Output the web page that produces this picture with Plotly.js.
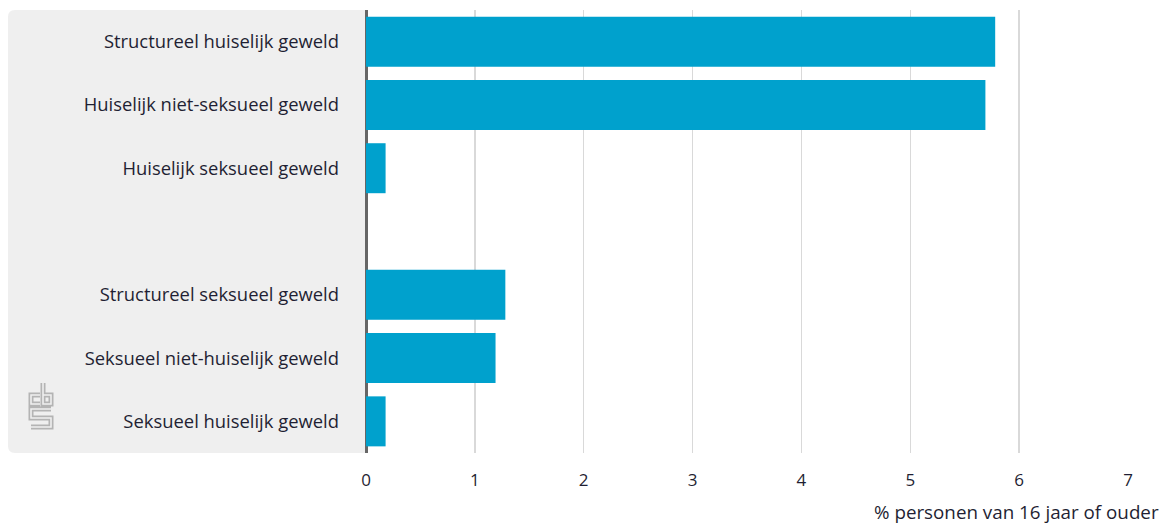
<!DOCTYPE html>
<html>
<head>
<meta charset="utf-8">
<script src="https://cdn.plot.ly/plotly-3.0.1.min.js"></script>
<style>
html,body{margin:0;padding:0;background:#fff;}
#chart{width:1165px;height:527px;}
</style>
</head>
<body>
<div id="chart"></div>
<script>
// Data
const categories = [
  "Structureel huiselijk geweld",
  "Huiselijk niet-seksueel geweld",
  "Huiselijk seksueel geweld",
  "Structureel seksueel geweld",
  "Seksueel niet-huiselijk geweld",
  "Seksueel huiselijk geweld"
];
const values = [5.78, 5.69, 0.18, 1.28, 1.19, 0.18];
const categoryOrder = [
  "Structureel huiselijk geweld",
  "Huiselijk niet-seksueel geweld",
  "Huiselijk seksueel geweld",
  " ",
  "Structureel seksueel geweld",
  "Seksueel niet-huiselijk geweld",
  "Seksueel huiselijk geweld"
];
const xTicks = [0, 1, 2, 3, 4, 5, 6, 7];
const xTitle = "% personen van 16 jaar of ouder";

const W = 1165, H = 527;
const M = {l: 366, r: 37, t: 10, b: 74};
const pw = W - M.l - M.r, ph = H - M.t - M.b;
const px = x => (x - M.l) / pw;
const py = y => 1 - (y - M.t) / ph;

const FONT = "'Open Sans', 'Noto Sans', sans-serif";
const TXT = "#1f1f33";

// rounded grey panel behind category labels
const x0 = 8, x1 = 366, y0 = 10, y1 = 453, r = 7;
const panelPath = `M ${px(x1)} ${py(y0)} L ${px(x0 + r)} ${py(y0)} Q ${px(x0)} ${py(y0)} ${px(x0)} ${py(y0 + r)} L ${px(x0)} ${py(y1 - r)} Q ${px(x0)} ${py(y1)} ${px(x0 + r)} ${py(y1)} L ${px(x1)} ${py(y1)} Z`;

// CBS logo as inline svg
const logoSvg = `<svg xmlns="http://www.w3.org/2000/svg" width="26" height="50" viewBox="0 0 26 50">
<g fill="none" stroke-linejoin="miter" stroke-linecap="butt">
<path d="M12 14 H3 V23 H12 M15 2 V23 H23 V14 H15 M23 28 H3 V37 H23 V46 H3" stroke="#b4b4b4" stroke-width="5"/>
<path d="M12 14 H3 V23 H12 M15 2 V23 H23 V14 H15 M23 28 H3 V37 H23 V46 H3" stroke="#efefef" stroke-width="1.6"/>
</g></svg>`;
const logoUri = "data:image/svg+xml;base64," + btoa(logoSvg);

const trace = {
  type: "bar",
  orientation: "h",
  y: categories,
  x: values,
  marker: {color: "#00a1cd", line: {width: 0}},
  hoverinfo: "x+y"
};

const layout = {
  width: W, height: H,
  margin: M,
  paper_bgcolor: "#ffffff",
  plot_bgcolor: "rgba(0,0,0,0)",
  bargap: 0.21,
  showlegend: false,
  font: {family: FONT, size: 17, color: TXT},
  xaxis: {
    range: [0, 7],
    tickvals: xTicks,
    ticktext: xTicks.map(String),
    showgrid: true,
    gridcolor: "#d9d9d9",
    gridwidth: 1.5,
    zeroline: true,
    zerolinecolor: "#666666",
    zerolinewidth: 3,
    showline: false,
    ticks: "",
    ticklabelstandoff: 15,
    tickfont: {family: FONT, size: 17, color: TXT},
    fixedrange: true
  },
  yaxis: {
    type: "category",
    categoryorder: "array",
    categoryarray: categoryOrder,
    range: [6.5, -0.5],
    showgrid: false,
    zeroline: false,
    showline: false,
    ticks: "",
    ticklabelstandoff: 26,
    tickfont: {family: FONT, size: 18.4, color: TXT},
    fixedrange: true
  },
  shapes: [{
    type: "path", xref: "paper", yref: "paper",
    path: panelPath, fillcolor: "#efefef", line: {width: 0}, layer: "below"
  }],
  images: [{
    source: logoUri, xref: "paper", yref: "paper",
    x: px(28), y: py(381), sizex: 26 / pw, sizey: 50 / ph,
    xanchor: "left", yanchor: "top", sizing: "stretch", layer: "above"
  }],
  annotations: [{
    text: xTitle, xref: "paper", yref: "paper",
    x: px(1161), y: py(512), xanchor: "right", yanchor: "middle",
    showarrow: false, font: {family: FONT, size: 18.8, color: TXT}
  }]
};

Plotly.newPlot("chart", [trace], layout, {displayModeBar: false, staticPlot: true});
</script>
</body>
</html>
